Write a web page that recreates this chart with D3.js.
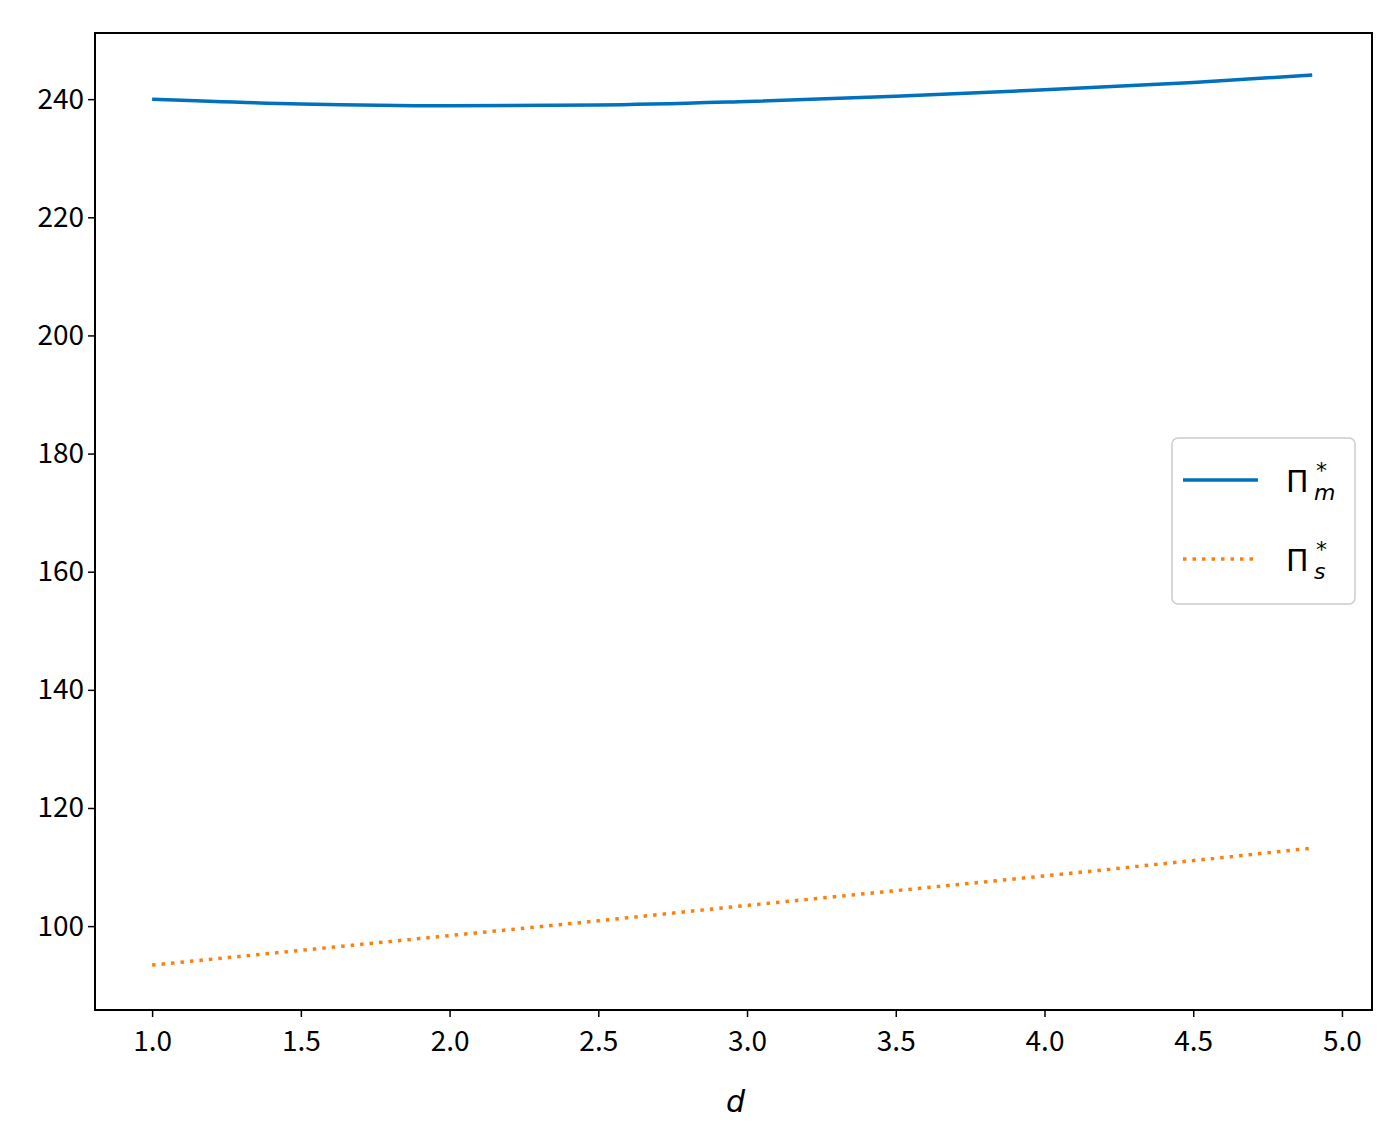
<!DOCTYPE html>
<html><head><meta charset="utf-8">
<script src="https://cdn.jsdelivr.net/npm/d3@7"></script>
<style>body{margin:0;background:#fff}</style></head>
<body><svg id="c" width="1390" height="1133"></svg>
<script>
const dVals=[1.0,1.5,2.0,2.5,3.0,3.5,4.0,4.5,4.9];
const piM=[240.0,239.2,238.9,239.0,239.6,240.5,241.6,242.8,244.1];
const piS=[93.4,95.9,98.4,100.9,103.5,106.0,108.5,111.1,113.2];
const xTicks=[1.0,1.5,2.0,2.5,3.0,3.5,4.0,4.5,5.0];
const yTicks=[100,120,140,160,180,200,220,240];

const svg=d3.select("#c");
const L=95,R=1372,T=33,B=1010;
const x=d3.scaleLinear().domain([0.808,5.101]).range([L,R]);
const y=d3.scaleLinear().domain([85.8,251.2]).range([B,T]);
const font="'Noto Sans CJK SC','DejaVu Sans',sans-serif";

const xa=svg.append("g").attr("transform",`translate(0,${B})`)
 .call(d3.axisBottom(x).tickValues(xTicks).tickFormat(d3.format(".1f")).tickSize(7).tickPadding(14));
const ya=svg.append("g").attr("transform",`translate(${L},0)`)
 .call(d3.axisLeft(y).tickValues(yTicks).tickSize(7).tickPadding(4));
[xa,ya].forEach(a=>{a.select(".domain").remove();a.selectAll("line").attr("stroke","#000").attr("stroke-width",1.5);
 a.selectAll("text").attr("font-family",font).attr("font-size",28).attr("fill","#000");});
svg.append("rect").attr("x",L).attr("y",T).attr("width",R-L).attr("height",B-T)
 .attr("fill","none").attr("stroke","#000").attr("stroke-width",2);

const line=d3.line().x((d,i)=>x(dVals[i])).y(d=>y(d)).curve(d3.curveMonotoneX);
svg.append("path").attr("d",line(piM)).attr("fill","none").attr("stroke","#0072bd").attr("stroke-width",3.5);
svg.append("path").attr("d",line(piS)).attr("fill","none").attr("stroke","#ff7f0e").attr("stroke-width",3.5).attr("stroke-dasharray","3.5 6");

svg.append("text").attr("x",(L+R)/2+2).attr("y",1112).attr("text-anchor","middle")
 .attr("font-family","'DejaVu Sans',sans-serif").attr("font-style","italic").attr("font-size",30).text("d");

const lg=svg.append("g");
lg.append("rect").attr("x",1172).attr("y",438).attr("width",183).attr("height",166).attr("rx",6)
 .attr("fill","#fff").attr("stroke","#ccc").attr("stroke-width",1.5);
lg.append("line").attr("x1",1183).attr("x2",1258).attr("y1",480).attr("y2",480).attr("stroke","#0072bd").attr("stroke-width",3.5);
lg.append("line").attr("x1",1183).attr("x2",1258).attr("y1",559).attr("y2",559).attr("stroke","#ff7f0e").attr("stroke-width",3.5).attr("stroke-dasharray","3.5 6");
function lab(yy,sub){
 const f="'DejaVu Sans',sans-serif";
 lg.append("text").attr("x",1286).attr("y",yy).attr("font-family",f).attr("font-size",30).text("Π");
 lg.append("text").attr("x",1316).attr("y",yy-14).attr("font-family",f).attr("font-size",22).text("*");
 lg.append("text").attr("x",1314).attr("y",yy+8).attr("font-family",f).attr("font-size",22).attr("font-style","italic").text(sub);}
lab(492,"m");lab(571,"s");
</script></body></html>
